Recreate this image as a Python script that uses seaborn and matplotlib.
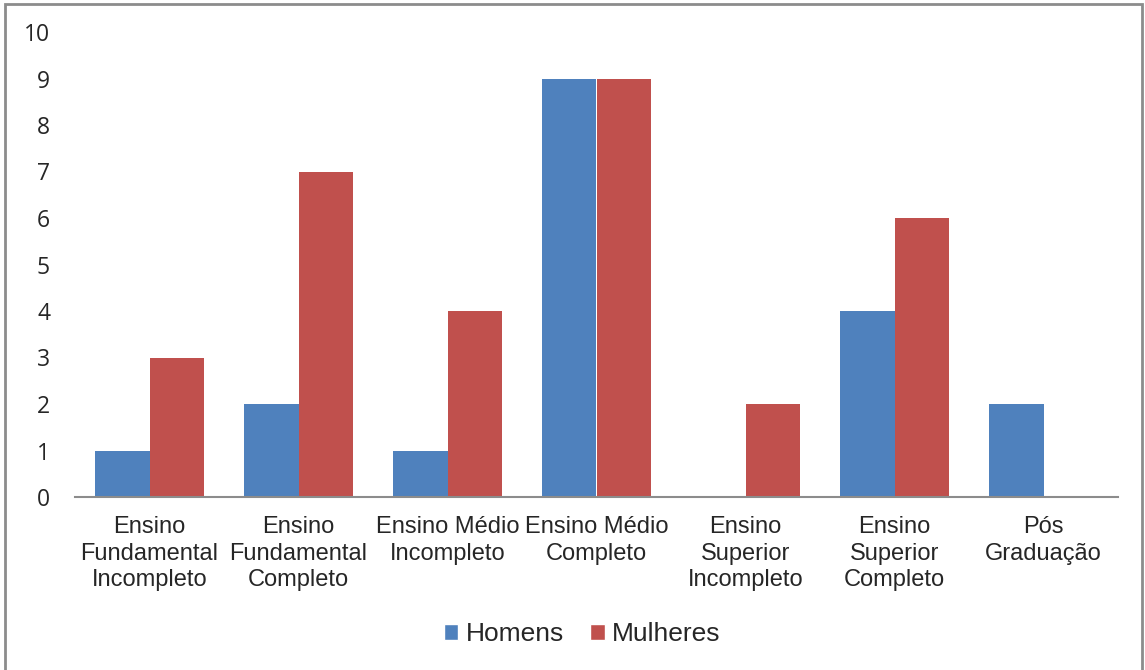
import matplotlib
matplotlib.use("Agg")
import matplotlib.pyplot as plt
import seaborn as sns
import pandas as pd
from matplotlib.patches import Rectangle

categories = ["Ensino Fundamental Incompleto", "Ensino Fundamental Completo",
              "Ensino Médio Incompleto", "Ensino Médio Completo",
              "Ensino Superior Incompleto", "Ensino Superior Completo",
              "Pós Graduação"]
tick_labels = ["Ensino\nFundamental\nIncompleto", "Ensino\nFundamental\nCompleto",
               "Ensino Médio\nIncompleto", "Ensino Médio\nCompleto",
               "Ensino\nSuperior\nIncompleto", "Ensino\nSuperior\nCompleto",
               "Pós\nGraduação"]
homens = [1, 2, 1, 9, 0, 4, 2]
mulheres = [3, 7, 4, 9, 2, 6, 0]
series = ["Homens", "Mulheres"]
colors = ["#4F81BD", "#C0504D"]

df = pd.DataFrame({
    "cat": categories * 2,
    "val": homens + mulheres,
    "serie": [series[0]] * len(categories) + [series[1]] * len(categories),
})

sns.set_theme(style="white")
plt.rcParams["font.family"] = ["Liberation Sans", "DejaVu Sans"]

fig = plt.figure(figsize=(11.45, 6.7), dpi=100)
ax = fig.add_axes([75 / 1145, 1 - 497 / 670, (1118 - 75) / 1145, (497 - 32) / 670])

sns.barplot(data=df, x="cat", y="val", hue="serie", order=categories,
            hue_order=series, palette=colors, width=0.725, saturation=1,
            linewidth=0, ax=ax, legend=True)

ax.set_ylim(0, 10)
ax.set_xlim(-0.5, len(categories) - 0.5)
ax.set_yticks(range(0, 11))
ax.set_yticklabels([str(i) for i in range(0, 11)], fontsize=16.5, family="Open Sans")
ax.set_xticks(range(len(categories)))
ax.set_xticklabels(tick_labels, fontsize=17, linespacing=1.24)
ax.tick_params(axis="y", length=0, pad=18)
ax.tick_params(axis="x", length=0, pad=14)
ax.set_xlabel("")
ax.set_ylabel("")
for s in ["top", "right", "left"]:
    ax.spines[s].set_visible(False)
ax.spines["bottom"].set_color("#8C8C8C")
ax.spines["bottom"].set_linewidth(1.5)

leg = ax.get_legend()
leg.remove()
handles = [Rectangle((0, 0), 1, 1, facecolor=c) for c in colors]
fig.legend(handles, series, loc="center", bbox_to_anchor=(582 / 1145, 1 - 634 / 670),
           ncol=2, frameon=False, fontsize=19, handlelength=0.55, handleheight=0.55,
           handletextpad=0.27, columnspacing=1.0)

fig.patches.append(Rectangle((5 / 1145, -0.05), (1142 - 5) / 1145, 1.05 - 4 / 670,
                             transform=fig.transFigure, fill=False,
                             edgecolor="#8C8C8C", linewidth=2))

fig.savefig("out.png", dpi=100)
